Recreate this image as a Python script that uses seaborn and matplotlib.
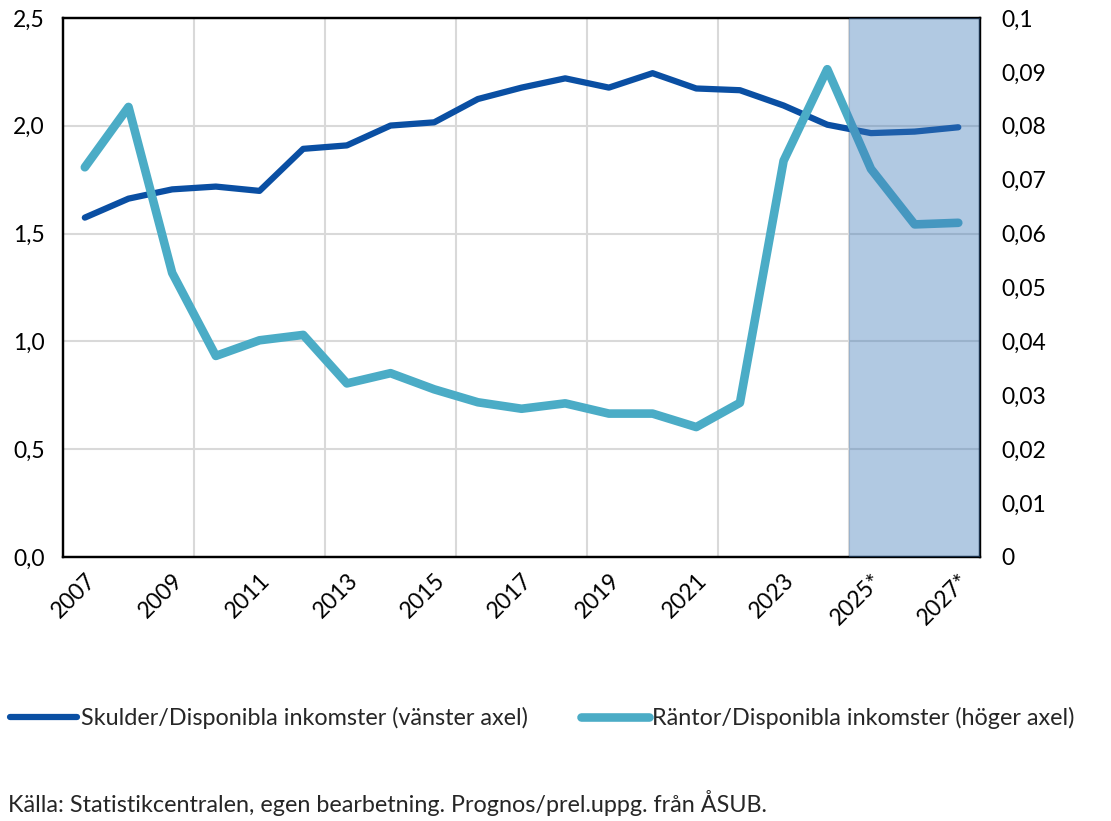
import numpy as np
import pandas as pd
import matplotlib
matplotlib.use("Agg")
import matplotlib.pyplot as plt
import seaborn as sns
from matplotlib.ticker import FuncFormatter

# Data
years = ['2007', '2008', '2009', '2010', '2011', '2012', '2013', '2014', '2015',
         '2016', '2017', '2018', '2019', '2020', '2021', '2022', '2023', '2024',
         '2025*', '2026*', '2027*']
skulder = [1.574, 1.662, 1.705, 1.718, 1.698, 1.893, 1.909, 2.001, 2.016,
           2.124, 2.177, 2.220, 2.177, 2.244, 2.173, 2.165, 2.094, 2.005,
           1.966, 1.973, 1.993]
rantor = [0.0723, 0.0835, 0.0527, 0.0373, 0.0402, 0.0412, 0.0322, 0.0341, 0.0311,
          0.0287, 0.0275, 0.0285, 0.0266, 0.0266, 0.0241, 0.0286, 0.0735, 0.0905,
          0.0720, 0.0617, 0.0620]
forecast_from = '2025*'

label_left = 'Skulder/Disponibla inkomster (vänster axel)'
label_right = 'Räntor/Disponibla inkomster (höger axel)'
source = 'Källa: Statistikcentralen, egen bearbetning. Prognos/prel.uppg. från ÅSUB.'

df = pd.DataFrame({'year': years, 'skulder': skulder, 'rantor': rantor})
df['pos'] = np.arange(len(df))

sns.set_theme(style='white')
plt.rcParams['font.family'] = ['Lato', 'DejaVu Sans']
dark = '#0A4FA3'
light = '#4BACC6'

fig = plt.figure(figsize=(11.11, 8.21), dpi=100)
ax = fig.add_axes([0.0567, 0.3216, 0.8255, 0.6565])
ax2 = ax.twinx()

sns.lineplot(data=df, x='pos', y='skulder', ax=ax, color=dark, linewidth=4.5,
             solid_capstyle='round', label=label_left, legend=False)
sns.lineplot(data=df, x='pos', y='rantor', ax=ax2, color=light, linewidth=6.2,
             solid_capstyle='round', label=label_right, legend=False)

# forecast shading on top of the lines
start = df.loc[df['year'] == forecast_from, 'pos'].iloc[0]
ax2.axvspan(start - 0.5, len(df) - 0.5, color='#3D78B8', alpha=0.4, lw=0, zorder=5)

ax.set_xlim(-0.5, len(df) - 0.5)
ax.set_ylim(0, 2.5)
ax2.set_ylim(0, 0.1)
ax.set_yticks(np.arange(0, 2.51, 0.5))
ax2.set_yticks(np.arange(0, 0.101, 0.01))
ax.yaxis.set_major_formatter(FuncFormatter(lambda v, p: f'{v:.1f}'.replace('.', ',')))
ax2.yaxis.set_major_formatter(FuncFormatter(
    lambda v, p: '0' if abs(v) < 1e-9 else f'{v:.2f}'.rstrip('0').replace('.', ',')))

ax.set_xticks(df['pos'][::2])
ax.set_xticklabels(df['year'][::2], rotation=45, ha='right', rotation_mode='anchor')
ax.set_xticks(np.arange(2.5, len(df) - 1, 3), minor=True)

ax.grid(True, axis='y', color='#D9D9D9', linewidth=1.5)
ax.grid(True, axis='x', which='minor', color='#D9D9D9', linewidth=1.5)
ax.set_axisbelow(True)

ax.set_xlabel('')
ax.set_ylabel('')
ax2.set_ylabel('')
ax.tick_params(axis='both', which='both', length=0, labelsize=16.5, colors='black')
ax.tick_params(axis='y', pad=13)
ax.tick_params(axis='x', pad=9)
ax2.tick_params(axis='y', length=0, labelsize=16.5, pad=15, colors='black')

for a in (ax, ax2):
    for s in a.spines.values():
        s.set_color('black')
        s.set_linewidth(1.6)

h1, l1 = ax.get_legend_handles_labels()
h2, l2 = ax2.get_legend_handles_labels()
fig.legend(h1 + h2, l1 + l2, loc='center', bbox_to_anchor=(0.488, 0.125), ncol=2,
           frameon=False, fontsize=16.8, handlelength=2.9, handletextpad=0.15,
           columnspacing=2.3)

fig.text(0.007, 1 - 803 / 821, source, fontsize=16.8, va='center', ha='left')

fig.savefig('out.png', dpi=100)
